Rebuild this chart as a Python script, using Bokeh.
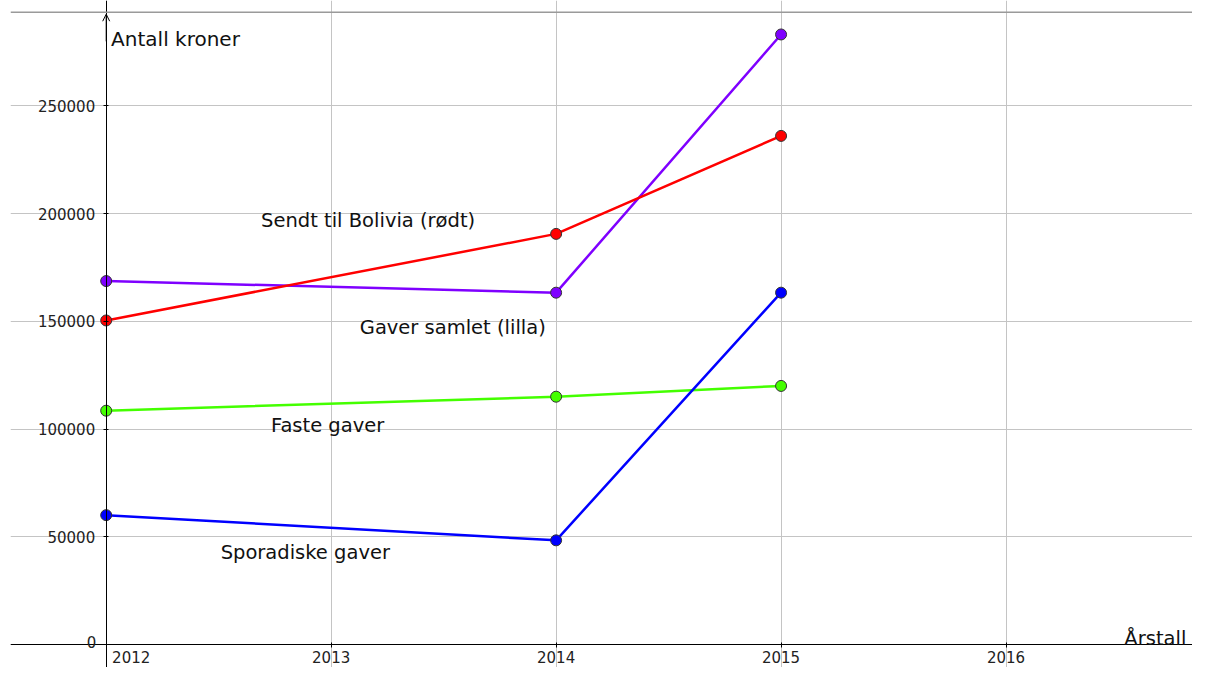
from bokeh.plotting import figure
from bokeh.models import FixedTicker, Span, Label, Arrow, OpenHead, Range1d, BasicTickFormatter
from bokeh.embed import file_html
from bokeh.resources import INLINE

# ---- data ----
years = [2012, 2014, 2015]
gaver_samlet = [168700, 163300, 283200]      # lilla
sendt_bolivia = [150400, 190600, 236100]     # rødt
faste_gaver = [108500, 115000, 120000]       # grønt
sporadiske_gaver = [60000, 48300, 163300]    # blått
x_ticks = [2012, 2013, 2014, 2015, 2016]
y_ticks = [0, 50000, 100000, 150000, 200000, 250000]
series_names = ["Gaver samlet (lilla)", "Sendt til Bolivia (rødt)", "Faste gaver", "Sporadiske gaver"]

FONT = "DejaVu Sans"

p = figure(width=1192, height=667,
           x_range=Range1d(2011.5746, 2016.8289),
           y_range=Range1d(-10747, 298975),
           output_backend="svg", toolbar_location=None,
           min_border_left=10, min_border_right=0, min_border_top=0, min_border_bottom=0,
           outline_line_color=None, background_fill_color="white", border_fill_color="white")

# axes crossing inside the plot
p.xaxis.fixed_location = 0
p.yaxis.fixed_location = 2012
p.xaxis.ticker = FixedTicker(ticks=x_ticks)
p.yaxis.ticker = FixedTicker(ticks=y_ticks)
p.xgrid.ticker = FixedTicker(ticks=x_ticks)
p.ygrid.ticker = FixedTicker(ticks=y_ticks)
p.xaxis.formatter = BasicTickFormatter(use_scientific=False)
p.yaxis.formatter = BasicTickFormatter(use_scientific=False)
p.xaxis.major_label_overrides = {x_ticks[0]: ""}
p.yaxis.major_label_overrides = {y_ticks[0]: ""}
for ax in (p.xaxis, p.yaxis):
    ax.axis_line_color = "black"
    ax.axis_line_width = 1
    ax.major_tick_line_color = "black"
    ax.major_tick_in = 2
    ax.major_tick_out = 3
    ax.minor_tick_line_color = None
    ax.major_label_text_font = FONT
    ax.major_label_text_font_size = "15px"
    ax.major_label_text_color = "#222222"
    try:
        ax.major_label_background_fill_color = "white"
    except Exception:
        pass
p.xaxis.major_label_standoff = 4
p.yaxis.major_label_standoff = 8

p.xgrid.grid_line_color = "#c4c4c4"
p.ygrid.grid_line_color = "#c4c4c4"
p.xgrid.grid_line_width = 1
p.ygrid.grid_line_width = 1

# top border of the view
p.add_layout(Span(location=293533, dimension="width", line_color="#9a9a9a", line_width=1.5))

# arrow on y-axis
p.add_layout(Arrow(end=OpenHead(size=7, line_width=1, line_color="black"),
                   line_color="black", line_width=1,
                   x_start=2012, y_start=280000, x_end=2012, y_end=292600))

colors = ["#7f00ff", "#ff0000", "#44ff00", "#0000ff"]
values = [gaver_samlet, sendt_bolivia, faste_gaver, sporadiske_gaver]
for vals, c in zip(values, colors):
    p.line(years, vals, line_color=c, line_width=2.5)
for vals, c in zip(values, colors):
    p.scatter(years, vals, size=11, fill_color=c, line_color="#333333", line_width=1)

# text labels
label_pos = [(2013.1272, 147060), (2012.6886, 196942), (2012.7325, 101714), (2012.5088, 42762)]
for name, (lx, ly) in zip(series_names, label_pos):
    p.add_layout(Label(x=lx, y=ly, text=name, text_font=FONT, text_font_size="19.5px",
                       text_color="#111111", text_align="left", text_baseline="alphabetic"))

p.add_layout(Label(x=2012.0219, y=281151, text="Antall kroner", text_font=FONT,
                   text_font_size="20px", text_color="#111111",
                   text_align="left", text_baseline="alphabetic"))
p.add_layout(Label(x=2016.526, y=2721, text="Årstall", text_font=FONT,
                   text_font_size="19.5px", text_color="#111111",
                   text_align="left", text_baseline="alphabetic"))
# labels at the origin
p.add_layout(Label(x=2011.956, y=1043, text=str(y_ticks[0]), text_font=FONT,
                   text_font_size="15px", text_color="#222222",
                   text_align="right", text_baseline="alphabetic"))
p.add_layout(Label(x=2012.0263, y=-3300, text=str(x_ticks[0]), text_font=FONT,
                   text_font_size="15px", text_color="#222222",
                   text_align="left", text_baseline="top"))

open("out.html", "w").write(file_html(p, INLINE))
